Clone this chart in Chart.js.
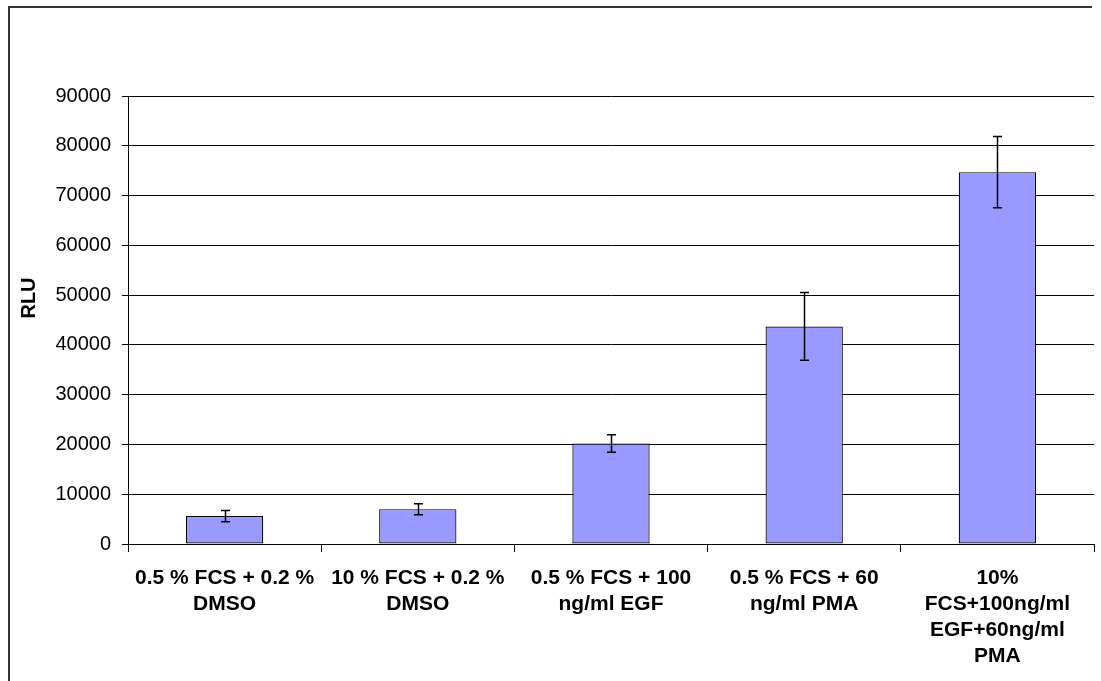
<!DOCTYPE html>
<html>
<head>
<meta charset="utf-8">
<script src="https://cdn.jsdelivr.net/npm/chart.js@4"></script>
<style>
  html, body { margin: 0; padding: 0; background: #fff; }
  #wrap { width: 1101px; height: 681px; position: relative; }
</style>
</head>
<body>
<div id="wrap"><canvas id="grafico"></canvas></div>
<script>
// Dados
const categorias = [
    ['0.5 % FCS + 0.2 %', 'DMSO'],
    ['10 % FCS + 0.2 %', 'DMSO'],
    ['0.5 % FCS + 100', 'ng/ml EGF'],
    ['0.5 % FCS + 60', 'ng/ml PMA'],
    ['10%', 'FCS+100ng/ml', 'EGF+60ng/ml', 'PMA']
];
const valores = [5600, 7000, 20200, 43700, 74700];
const erros = [1150, 1100, 1750, 6800, 7150];
const ticksY = [0, 10000, 20000, 30000, 40000, 50000, 60000, 70000, 80000, 90000];
const tituloY = 'RLU';

// Moldura externa (sem lado direito nem inferior) + título do eixo Y
const moldura = {
    id: 'moldura',
    beforeDraw(chart) {
        const c = chart.ctx;
        c.save();
        c.strokeStyle = '#333';
        c.lineWidth = 2;
        c.beginPath();
        c.moveTo(9, 700);
        c.lineTo(9, 7);
        c.lineTo(1092, 7);
        c.stroke();

        c.translate(29, 298);
        c.rotate(-Math.PI / 2);
        c.fillStyle = '#000';
        c.font = 'bold 20px "Liberation Sans", Arial, sans-serif';
        c.textAlign = 'center';
        c.textBaseline = 'middle';
        c.fillText(tituloY, 0, 0);
        c.restore();
    }
};

// Barras de erro
const barrasErro = {
    id: 'barrasErro',
    afterDatasetsDraw(chart) {
        const c = chart.ctx;
        const y = chart.scales.y;
        const meta = chart.getDatasetMeta(0);
        c.save();
        c.strokeStyle = '#000';
        c.lineWidth = 1.5;
        meta.data.forEach((bar, i) => {
            const x = Math.round(bar.x) + 0.5;
            const topo = y.getPixelForValue(valores[i] + erros[i]);
            const base = y.getPixelForValue(valores[i] - erros[i]);
            c.beginPath();
            c.moveTo(x, topo);
            c.lineTo(x, base);
            c.moveTo(x - 4.5, topo);
            c.lineTo(x + 4.5, topo);
            c.moveTo(x - 4.5, base);
            c.lineTo(x + 4.5, base);
            c.stroke();
        });
        c.restore();
    }
};

const ctx = document.getElementById('grafico').getContext('2d');
new Chart(ctx, {
    type: 'bar',
    data: {
        labels: categorias,
        datasets: [{
            data: valores,
            backgroundColor: '#9999ff',
            borderColor: '#000',
            borderWidth: 1.2,
            borderSkipped: false,
            categoryPercentage: 0.8,
            barPercentage: 0.5
        }]
    },
    options: {
        responsive: true,
        maintainAspectRatio: false,
        animation: false,
        layout: { padding: { top: 96, right: 7, left: 18, bottom: 0 } },
        plugins: {
            legend: { display: false },
            tooltip: { enabled: false }
        },
        scales: {
            x: {
                afterFit(axis) {
                    axis.height = 137;
                },
                grid: {
                    offset: true,
                    drawOnChartArea: false,
                    color: '#000',
                    tickLength: 8
                },
                border: { color: '#000', width: 1 },
                ticks: {
                    color: '#000',
                    maxRotation: 0,
                    autoSkip: false,
                    padding: 13,
                    font: { family: 'Liberation Sans, Arial, sans-serif', size: 21, weight: 'bold', lineHeight: 1.24 }
                }
            },
            y: {
                min: 0,
                max: 90000,
                afterBuildTicks(axis) {
                    axis.ticks = ticksY.map(v => ({ value: v }));
                },
                afterFit(axis) {
                    axis.width = 110;
                },
                grid: {
                    color: '#000',
                    lineWidth: 1,
                    tickLength: 6
                },
                border: { color: '#000', width: 1 },
                ticks: {
                    color: '#000',
                    padding: 11,
                    callback: v => String(v),
                    font: { family: 'Liberation Sans, Arial, sans-serif', size: 20 }
                }
            }
        }
    },
    plugins: [moldura, barrasErro]
});
</script>
</body>
</html>
